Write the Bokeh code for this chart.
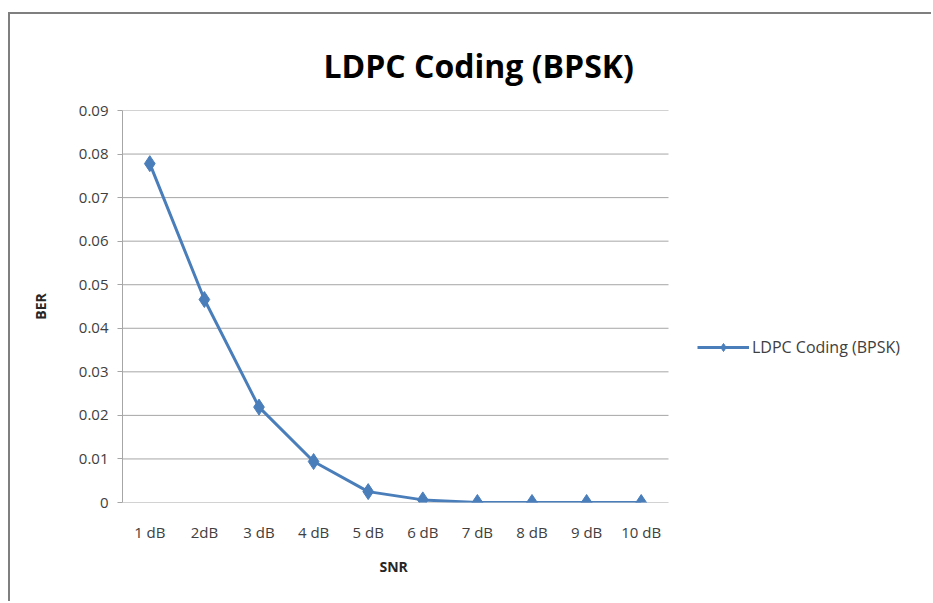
from bokeh.plotting import figure
from bokeh.models import (ColumnDataSource, Legend, LegendItem, FixedTicker,
                          CustomJSTickFormatter, Range1d, Title)
from bokeh.embed import file_html
from bokeh.resources import INLINE

categories = ["1 dB", "2dB", "3 dB", "4 dB", "5 dB", "6 dB", "7 dB", "8 dB", "9 dB", "10 dB"]
ber = [0.0778, 0.0466, 0.0219, 0.0094, 0.0025, 0.0006, 0.0, 0.0, 0.0, 0.0]
y_ticks = [0, 0.01, 0.02, 0.03, 0.04, 0.05, 0.06, 0.07, 0.08, 0.09]
title_text = "LDPC Coding (BPSK)"
x_title = "SNR"
y_title = "BER"
series_name = "LDPC Coding (BPSK)"

FONT = "Open Sans"
BLUE = "#4a7ebb"
GRID = "#a6a6a6"

n = len(categories)
xpos = list(range(1, n + 1))
src = ColumnDataSource(dict(x=xpos, y=ber))

# frame spans to the right edge so that the legend (inside the frame) is not clipped
FRAME_W = 811
PLOT_W = 546
x_end = 0.5 + n * FRAME_W / PLOT_W

p = figure(width=923, height=589, x_range=Range1d(0.5, x_end), y_range=Range1d(0, 0.09),
           output_backend="svg", toolbar_location=None,
           min_border_left=112, min_border_right=0, min_border_top=96, min_border_bottom=101)
p.styles = {"border-left": "2px solid #7f7f7f", "border-top": "2px solid #7f7f7f",
            "margin-left": "8px", "margin-top": "12px"}

p.outline_line_color = None
p.background_fill_color = "white"
p.border_fill_color = "white"
p.xgrid.grid_line_color = None
p.ygrid.grid_line_color = None

p.title.text = title_text
p.title.text_font = FONT
p.title.text_font_size = "32px"
p.title.text_font_style = "bold"
p.title.text_color = "#000000"
p.title.align = "left"
p.title.offset = 201
p.title.standoff = 48

# horizontal gridlines across the plot area only
grid_src = ColumnDataSource(dict(x0=[0.5] * len(y_ticks), x1=[n + 0.5] * len(y_ticks), y=y_ticks))
p.segment("x0", "y", "x1", "y", source=grid_src, line_color=GRID, line_width=1)

p.yaxis.ticker = FixedTicker(ticks=y_ticks)
p.yaxis.formatter = CustomJSTickFormatter(code="return tick == 0 ? '0' : tick.toFixed(2);")
p.yaxis.axis_line_color = GRID
p.yaxis.major_tick_line_color = GRID
p.yaxis.major_tick_out = 5
p.yaxis.major_tick_in = 0
p.yaxis.minor_tick_line_color = None
p.yaxis.major_label_standoff = 9
p.yaxis.major_label_text_font = FONT
p.yaxis.major_label_text_font_size = "15px"
p.yaxis.major_label_text_color = "#404040"
p.yaxis.axis_label = y_title
p.yaxis.axis_label_text_font = FONT
p.yaxis.axis_label_text_font_size = "14px"
p.yaxis.axis_label_text_font_style = "bold"
p.yaxis.axis_label_text_color = "#262626"
p.yaxis.axis_label_standoff = 26

p.xaxis.ticker = FixedTicker(ticks=xpos)
p.xaxis.major_label_overrides = {i: c for i, c in zip(xpos, categories)}
p.xaxis.axis_line_color = None
p.xaxis.major_tick_line_color = None
p.xaxis.minor_tick_line_color = None
p.xaxis.major_label_text_font = FONT
p.xaxis.major_label_text_font_size = "15px"
p.xaxis.major_label_text_color = "#404040"
p.xaxis.major_label_standoff = 13

p.add_layout(Title(text=x_title, align="left", offset=257, standoff=21,
                   text_font=FONT, text_font_size="14px", text_font_style="bold",
                   text_color="#262626"), "below")

ln = p.line("x", "y", source=src, line_color=BLUE, line_width=3)
mk = p.scatter("x", "y", source=src, marker="diamond", size=16,
               fill_color=BLUE, line_color=BLUE)

legend = Legend(items=[LegendItem(label=series_name, renderers=[ln, mk])],
                location=(575, 144), border_line_color=None, background_fill_alpha=0,
                label_text_font=FONT, label_text_font_size="16px", label_text_color="#404040",
                glyph_width=52, label_standoff=3, padding=0, margin=0)
p.add_layout(legend, "center")

open("out.html", "w").write(file_html(p, INLINE))
